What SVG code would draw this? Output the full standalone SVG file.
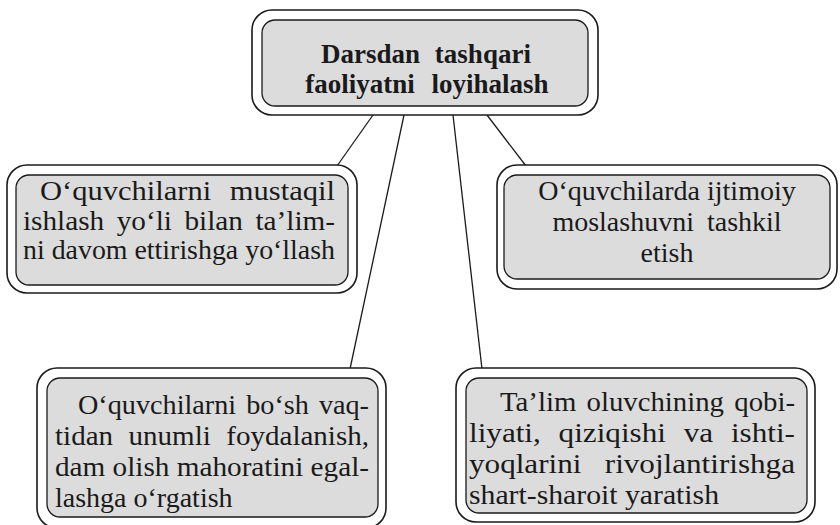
<svg xmlns="http://www.w3.org/2000/svg" width="840" height="525" viewBox="0 0 840 525">
<style>
.outer{fill:#ffffff;stroke:#1a1a1a;stroke-width:1.6}
.inner{fill:#dcdcdc;stroke:#1a1a1a;stroke-width:1.3}
.c{stroke:#1a1a1a;stroke-width:1.3;fill:none}
</style>
<rect width="840" height="525" fill="#ffffff"/>
<g id="connectors">
<line class="c" x1="373" y1="115" x2="337" y2="166"/>
<line class="c" x1="404" y1="115" x2="350" y2="369"/>
<line class="c" x1="453" y1="115" x2="482" y2="369"/>
<line class="c" x1="487" y1="115" x2="526" y2="166"/>
</g>
<g font-family="Liberation Serif, Times New Roman, serif" font-size="28" fill="#1a1a1a">
<g id="top">
<rect class="outer" x="252" y="10" width="346" height="105" rx="20"/>
<rect class="inner" x="262" y="20" width="326" height="86" rx="13"/>
<text font-weight="bold" font-size="27" x="426" y="63" text-anchor="middle" word-spacing="8">Darsdan tashqari</text>
<text font-weight="bold" font-size="27" x="427" y="93" text-anchor="middle" word-spacing="10">faoliyatni loyihalash</text>
</g>
<g id="left-mid">
<rect class="outer" x="7" y="165" width="350" height="128" rx="20"/>
<rect class="inner" x="16" y="175" width="332" height="110" rx="13"/>
<text x="40" y="200" word-spacing="10" textLength="295" lengthAdjust="spacingAndGlyphs">O‘quvchilarni mustaqil</text>
<text x="23" y="230" word-spacing="5" textLength="312" lengthAdjust="spacingAndGlyphs">ishlash yo‘li bilan ta’lim-</text>
<text x="23" y="259" textLength="312" lengthAdjust="spacingAndGlyphs">ni davom ettirishga yo‘llash</text>
</g>
<g id="right-mid">
<rect class="outer" x="497" y="165" width="340" height="124" rx="20"/>
<rect class="inner" x="504" y="175" width="326" height="104" rx="13"/>
<text x="667" y="200" text-anchor="middle">O‘quvchilarda ijtimoiy</text>
<text x="667" y="231" text-anchor="middle" word-spacing="6">moslashuvni tashkil</text>
<text x="667" y="262" text-anchor="middle">etish</text>
</g>
<g id="left-bottom">
<rect class="outer" x="37" y="368" width="349" height="160" rx="20"/>
<rect class="inner" x="47" y="378" width="331" height="139" rx="13"/>
<text x="78" y="414" word-spacing="3" textLength="291" lengthAdjust="spacingAndGlyphs">O‘quvchilarni bo‘sh vaq-</text>
<text x="55" y="445" word-spacing="8" textLength="314" lengthAdjust="spacingAndGlyphs">tidan unumli foydalanish,</text>
<text x="55" y="476" textLength="314" lengthAdjust="spacingAndGlyphs">dam olish mahoratini egal-</text>
<text x="55" y="507">lashga o‘rgatish</text>
</g>
<g id="right-bottom">
<rect class="outer" x="456" y="368" width="359" height="154" rx="20"/>
<rect class="inner" x="466" y="378" width="341" height="135" rx="13"/>
<text x="500" y="411" word-spacing="3" textLength="295" lengthAdjust="spacingAndGlyphs">Ta’lim oluvchining qobi-</text>
<text x="469" y="442" word-spacing="9" textLength="326" lengthAdjust="spacingAndGlyphs">liyati, qiziqishi va ishti-</text>
<text x="469" y="473" word-spacing="14" textLength="326" lengthAdjust="spacingAndGlyphs">yoqlarini rivojlantirishga</text>
<text x="469" y="504" textLength="250" lengthAdjust="spacingAndGlyphs">shart-sharoit yaratish</text>
</g>
</g>
</svg>
